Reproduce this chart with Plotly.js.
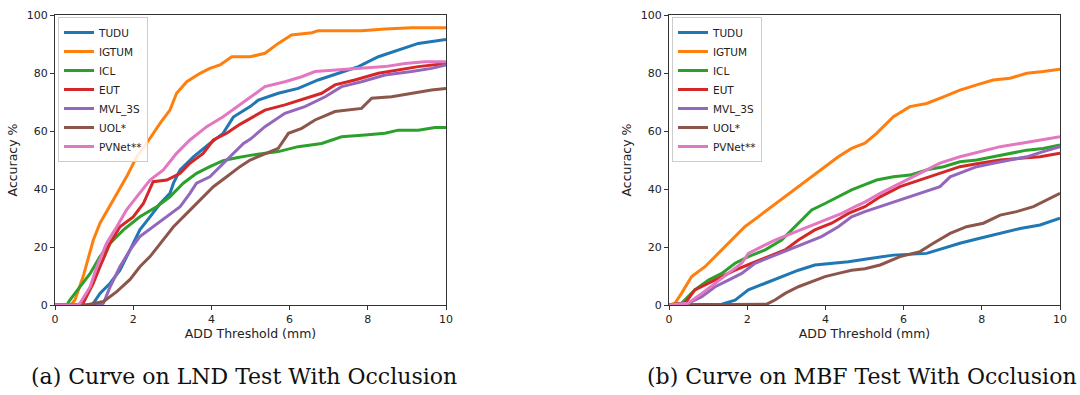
<!DOCTYPE html>
<html>
<head>
<meta charset="utf-8">
<script src="https://cdn.plot.ly/plotly-3.0.1.min.js"></script>
<style>html,body{margin:0;padding:0;background:#fff;}#chart{width:1080px;height:395px;}</style>
</head>
<body>
<div id="chart"></div>
<script>
// ---- Data ----
const seriesNames = ["TUDU", "IGTUM", "ICL", "EUT", "MVL_3S", "UOL*", "PVNet**"];
const seriesColors = ["#1f77b4", "#ff7f0e", "#2ca02c", "#d62728", "#9467bd", "#8c564b", "#e377c2"];
const xTicks = [0, 2, 4, 6, 8, 10];
const yTicks = [0, 20, 40, 60, 80, 100];
const captionA = "(a) Curve on LND Test With Occlusion";
const captionB = "(b) Curve on MBF Test With Occlusion";

// (a) LND test with occlusion
const lndTuduX = [0, 0.9, 0.98, 1.15, 1.41, 1.66, 1.92, 2.17, 2.43, 2.69, 2.94, 3.03, 3.2, 3.54, 3.96, 4.3, 4.56, 4.82, 5.0, 5.2, 5.71, 6.22, 6.73, 7.25, 7.76, 8.27, 8.78, 9.29, 10];
const lndTuduY = [0, 0, 0.6, 4, 7.5, 12, 19, 25.9, 30.4, 35, 38.5, 42, 46.6, 51.1, 55.7, 59.2, 64.8, 67, 68.5, 70.7, 73, 74.7, 77.6, 79.9, 82.2, 85.6, 87.9, 90.2, 91.6];
const lndIgtumX = [0, 0.4, 0.51, 0.72, 0.98, 1.15, 1.49, 1.83, 2.09, 2.34, 2.69, 2.94, 3.11, 3.37, 3.71, 3.96, 4.22, 4.52, 4.99, 5.37, 5.71, 6.05, 6.57, 6.73, 7.84, 8.44, 9.12, 10];
const lndIgtumY = [0, 0, 1.7, 9.8, 22.4, 28.2, 36.2, 44.2, 51.1, 55.7, 62.7, 67.2, 73, 77, 79.9, 81.6, 82.8, 85.6, 85.6, 86.8, 90.2, 93.1, 93.9, 94.6, 94.6, 95.2, 95.6, 95.6];
const lndIclX = [0, 0.3, 0.38, 0.64, 0.9, 1.15, 1.41, 1.75, 2.17, 2.6, 2.94, 3.28, 3.62, 3.96, 4.3, 4.65, 4.99, 5.71, 6.22, 6.82, 7.33, 7.93, 8.44, 8.78, 9.29, 9.72, 10];
const lndIclY = [0, 0, 1.7, 6.3, 10.9, 16.7, 21.3, 25.9, 30.4, 33.9, 37.3, 42, 45.4, 47.7, 49.8, 50.8, 51.6, 52.9, 54.6, 55.7, 58, 58.6, 59.2, 60.3, 60.3, 61.2, 61.2];
const lndEutX = [0, 0.65, 0.72, 0.98, 1.15, 1.41, 1.66, 2.0, 2.26, 2.51, 2.86, 3.2, 3.45, 3.79, 4.05, 4.39, 4.73, 4.99, 5.37, 5.88, 6.39, 6.82, 7.16, 7.67, 8.27, 8.78, 9.29, 10];
const lndEutY = [0, 0, 0.6, 7.5, 13.2, 21.3, 27, 30.4, 35, 42.5, 43.1, 45.4, 48.9, 52.3, 56.9, 59.2, 62.3, 64.4, 67.2, 69, 71.3, 73, 75.9, 77.6, 79.9, 81, 82.2, 83.3];
const lndMvlX = [0, 1.15, 1.24, 1.41, 1.66, 1.92, 2.17, 2.51, 2.86, 3.2, 3.45, 3.62, 3.96, 4.22, 4.56, 4.82, 5.0, 5.37, 5.88, 6.39, 6.91, 7.33, 7.84, 8.44, 9.12, 9.63, 10];
const lndMvlY = [0, 0, 0.6, 6.3, 13.2, 19, 23.6, 27, 30.4, 33.9, 38.5, 42, 44.2, 47.7, 52.3, 55.7, 57.2, 61.5, 66.1, 68.4, 71.8, 75.3, 77, 79.3, 80.5, 81.6, 82.8];
const lndUolX = [0, 0.8, 1.24, 1.58, 1.92, 2.17, 2.43, 2.69, 3.03, 3.37, 3.71, 4.05, 4.39, 4.73, 4.99, 5.29, 5.71, 5.97, 6.31, 6.65, 7.16, 7.84, 8.1, 8.61, 9.12, 9.63, 10];
const lndUolY = [0, 0, 1.2, 4.6, 8.8, 13.2, 16.7, 21.3, 27, 31.6, 36.2, 40.8, 44.2, 47.7, 50, 51.7, 54, 59.2, 60.9, 63.8, 66.7, 67.8, 71.3, 71.8, 73, 74.1, 74.7];
const lndPvnetX = [0, 0.55, 0.64, 0.9, 1.07, 1.32, 1.58, 1.83, 2.09, 2.43, 2.77, 3.11, 3.45, 3.88, 4.3, 4.65, 4.99, 5.37, 5.88, 6.31, 6.65, 7.25, 7.84, 8.44, 8.95, 9.46, 10];
const lndPvnetY = [0, 0, 0.6, 6.3, 13.2, 21.3, 27, 32.8, 37.3, 43.1, 46.6, 52.3, 56.9, 61.5, 64.9, 68.4, 71.5, 75.3, 77, 78.7, 80.5, 81, 81.6, 82.2, 83.3, 83.9, 83.9];

// (b) MBF test with occlusion
const mbfTuduX = [0, 1.35, 1.69, 2.03, 2.46, 2.88, 3.31, 3.73, 4.16, 4.59, 5.01, 5.74, 6.59, 7.02, 7.44, 7.95, 8.47, 8.98, 9.49, 10];
const mbfTuduY = [0, 0.3, 1.7, 5.2, 7.5, 9.8, 12, 13.8, 14.4, 14.9, 15.8, 17.2, 17.8, 19.5, 21.3, 23, 24.7, 26.4, 27.6, 29.9];
const mbfIgtumX = [0, 0.15, 0.32, 0.58, 0.92, 1.26, 1.6, 1.94, 2.28, 2.63, 2.97, 3.31, 3.65, 3.99, 4.33, 4.67, 5.01, 5.31, 5.74, 6.16, 6.59, 7.02, 7.44, 7.87, 8.29, 8.72, 9.15, 9.57, 10];
const mbfIgtumY = [0, 0.6, 4, 9.8, 13.2, 17.8, 22.4, 27, 30.4, 33.9, 37.3, 40.8, 44.2, 47.7, 51.1, 54, 55.8, 59.2, 64.9, 68.4, 69.5, 71.8, 74.1, 75.9, 77.6, 78.2, 79.9, 80.5, 81.3];
const mbfIclX = [0, 0.32, 0.66, 1.01, 1.35, 1.69, 2.03, 2.46, 2.88, 3.31, 3.65, 3.99, 4.33, 4.67, 5.01, 5.31, 5.74, 6.16, 6.59, 7.02, 7.44, 7.87, 8.29, 8.72, 9.15, 9.57, 10];
const mbfIclY = [0, 0.6, 5.2, 8.6, 10.9, 14.4, 16.7, 19, 22.4, 28.2, 32.8, 35, 37.3, 39.7, 41.5, 43.1, 44.2, 44.8, 46.6, 47.7, 49.4, 50, 51.1, 52.3, 53.4, 54, 55.2];
const mbfEutX = [0, 0.41, 0.66, 1.01, 1.35, 1.69, 2.12, 2.54, 2.97, 3.31, 3.73, 4.16, 4.59, 5.01, 5.4, 5.91, 6.42, 6.93, 7.44, 7.95, 8.47, 8.98, 9.49, 10];
const mbfEutY = [0, 0.6, 5.2, 7.5, 9.8, 12, 14.4, 16.7, 19, 22.4, 25.9, 28.2, 31.6, 33.9, 37.3, 40.8, 43.1, 45.4, 47.7, 48.9, 50, 50.6, 51.1, 52.3];
const mbfMvlX = [0, 0.49, 0.84, 1.18, 1.52, 1.86, 2.2, 2.63, 3.05, 3.48, 3.9, 4.33, 4.67, 5.01, 5.4, 5.91, 6.42, 6.93, 7.19, 7.44, 7.87, 8.29, 8.72, 9.15, 9.57, 10];
const mbfMvlY = [0, 0.6, 2.9, 6.3, 8.6, 10.9, 14.4, 16.7, 19, 21.3, 23.6, 27, 30.4, 32.2, 33.9, 36.2, 38.5, 40.8, 44.2, 45.4, 47.7, 48.9, 50, 51.1, 52.9, 54.6];
const mbfUolX = [0, 2.5, 2.71, 2.97, 3.31, 3.65, 3.99, 4.33, 4.67, 5.01, 5.4, 5.91, 6.42, 6.76, 7.19, 7.61, 8.04, 8.47, 8.89, 9.32, 9.74, 10];
const mbfUolY = [0, 0.3, 1.7, 4, 6.3, 8, 9.8, 10.9, 12, 12.5, 13.8, 16.7, 18.4, 21.3, 24.7, 27, 28.2, 31, 32.2, 33.9, 36.8, 38.5];
const mbfPvnetX = [0, 0.49, 0.84, 1.18, 1.52, 1.86, 2.03, 2.37, 2.71, 3.14, 3.56, 3.99, 4.42, 4.76, 5.01, 5.4, 5.91, 6.42, 6.93, 7.44, 7.95, 8.47, 8.98, 9.49, 10];
const mbfPvnetY = [0, 0.6, 4, 7.5, 10.9, 14.4, 17.8, 20.1, 22.4, 24.7, 27, 29.3, 31.6, 33.9, 35.5, 38.5, 42, 45.4, 48.9, 51.1, 52.9, 54.6, 55.7, 56.9, 58];

const lndSeries = [[lndTuduX, lndTuduY], [lndIgtumX, lndIgtumY], [lndIclX, lndIclY], [lndEutX, lndEutY], [lndMvlX, lndMvlY], [lndUolX, lndUolY], [lndPvnetX, lndPvnetY]];
const mbfSeries = [[mbfTuduX, mbfTuduY], [mbfIgtumX, mbfIgtumY], [mbfIclX, mbfIclY], [mbfEutX, mbfEutY], [mbfMvlX, mbfMvlY], [mbfUolX, mbfUolY], [mbfPvnetX, mbfPvnetY]];

// ---- Build traces ----
const traces = [];
lndSeries.forEach((s, i) => traces.push({
  type: "scatter", mode: "lines", x: s[0], y: s[1], name: seriesNames[i],
  xaxis: "x", yaxis: "y", legend: "legend",
  line: {color: seriesColors[i], width: 3}
}));
mbfSeries.forEach((s, i) => traces.push({
  type: "scatter", mode: "lines", x: s[0], y: s[1], name: seriesNames[i],
  xaxis: "x2", yaxis: "y2", legend: "legend2",
  line: {color: seriesColors[i], width: 3}
}));

const W = 1080, H = 395;
const plotTop = 15, plotBot = 305;
const yDom = [1 - plotBot / H, 1 - plotTop / H];
const axisFont = {family: "DejaVu Sans", size: 11, color: "#222"};
const titleFont = {family: "DejaVu Sans", size: 12.5, color: "#222"};
const captionFont = {family: "DejaVu Serif", size: 22, color: "#111"};

function xAxis(l, r, anchor) {
  return {
    domain: [l / W, r / W], range: [0, 10], anchor: anchor,
    tickvals: xTicks, ticktext: xTicks.map(String),
    ticks: "outside", ticklen: 4, tickwidth: 1, tickcolor: "#333",
    showline: true, linecolor: "#333", linewidth: 1, mirror: true,
    showgrid: false, zeroline: false, tickfont: axisFont,
    title: {text: "ADD Threshold (mm)", font: titleFont, standoff: 4}
  };
}
function yAxis(anchor) {
  return {
    domain: yDom, range: [0, 100], anchor: anchor,
    tickvals: yTicks, ticktext: yTicks.map(String),
    ticks: "outside", ticklen: 4, tickwidth: 1, tickcolor: "#333",
    showline: true, linecolor: "#333", linewidth: 1, mirror: true,
    showgrid: false, zeroline: false, tickfont: axisFont,
    title: {text: "Accuracy %", font: titleFont, standoff: 6}
  };
}
function legendAt(px, py) {
  return {
    x: px / W, y: 1 - py / H, xanchor: "left", yanchor: "top",
    bgcolor: "rgba(255,255,255,0.85)", bordercolor: "#cccccc", borderwidth: 1,
    font: {family: "DejaVu Sans", size: 10.5, color: "#222"},
    itemwidth: 30, tracegroupgap: 0
  };
}

const layout = {
  width: W, height: H,
  margin: {l: 0, r: 0, t: 0, b: 0},
  paper_bgcolor: "#fff", plot_bgcolor: "#fff",
  showlegend: true,
  xaxis: xAxis(55, 446, "y"),
  yaxis: yAxis("x"),
  xaxis2: xAxis(669, 1060, "y2"),
  yaxis2: yAxis("x2"),
  legend: legendAt(58, 17),
  legend2: legendAt(672, 17),
  annotations: [
    {text: captionA, x: 244 / W, y: 1 - 376 / H, xref: "paper", yref: "paper", xanchor: "center", yanchor: "middle", showarrow: false, font: captionFont},
    {text: captionB, x: 862 / W, y: 1 - 376 / H, xref: "paper", yref: "paper", xanchor: "center", yanchor: "middle", showarrow: false, font: captionFont}
  ]
};

Plotly.newPlot("chart", traces, layout, {displayModeBar: false, staticPlot: true});
</script>
</body>
</html>
